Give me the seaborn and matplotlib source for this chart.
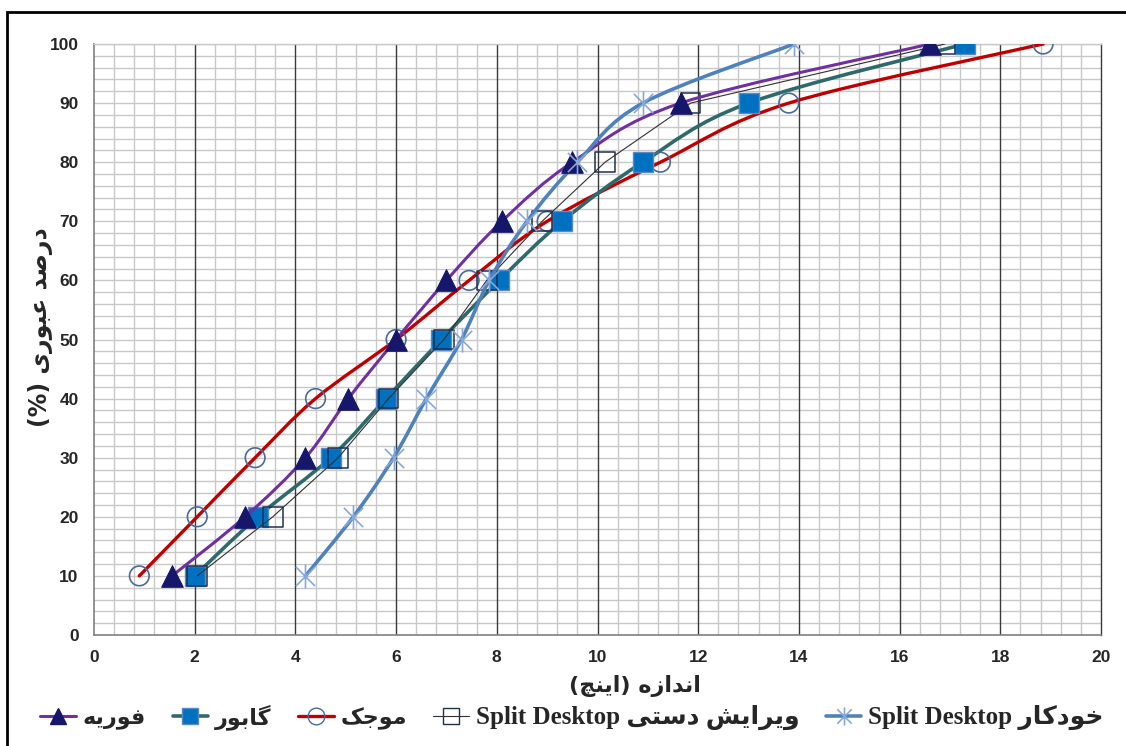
import numpy as np
import matplotlib
matplotlib.use("Agg")
import matplotlib.pyplot as plt
from matplotlib.path import Path
from matplotlib.patches import PathPatch, Rectangle
from matplotlib.lines import Line2D
import seaborn as sns
import pandas as pd

# ---------------- data ----------------
passing = [10, 20, 30, 40, 50, 60, 70, 80, 90, 100]
fourier_x = [1.55, 3.0, 4.2, 5.05, 6.0, 7.0, 8.1, 9.5, 11.65, 16.6]
gabor_x = [2.0, 3.25, 4.7, 5.8, 6.9, 8.05, 9.3, 10.9, 13.0, 17.3]
wavelet_x = [0.9, 2.05, 3.2, 4.4, 6.0, 7.45, 9.0, 11.25, 13.8, 18.85]
manual_x = [2.05, 3.55, 4.85, 5.85, 6.95, 7.8, 8.9, 10.15, 11.85, 16.9]
auto_x = [4.2, 5.15, 5.95, 6.6, 7.3, 7.85, 8.6, 9.6, 10.9, 13.9]
x_ticks = list(range(0, 21, 2))
y_ticks = list(range(0, 101, 10))

# ---------------- persian shaping (presentation forms) ----------------
FORMS = {
    'ا': ('\uFE8D', '\uFE8E', None, None),
    'ب': ('\uFE8F', '\uFE90', '\uFE91', '\uFE92'),
    'ت': ('\uFE95', '\uFE96', '\uFE97', '\uFE98'),
    'ج': ('\uFE9D', '\uFE9E', '\uFE9F', '\uFEA0'),
    'چ': ('\uFB7A', '\uFB7B', '\uFB7C', '\uFB7D'),
    'خ': ('\uFEA5', '\uFEA6', '\uFEA7', '\uFEA8'),
    'د': ('\uFEA9', '\uFEAA', None, None),
    'ر': ('\uFEAD', '\uFEAE', None, None),
    'ز': ('\uFEAF', '\uFEB0', None, None),
    'س': ('\uFEB1', '\uFEB2', '\uFEB3', '\uFEB4'),
    'ش': ('\uFEB5', '\uFEB6', '\uFEB7', '\uFEB8'),
    'ص': ('\uFEB9', '\uFEBA', '\uFEBB', '\uFEBC'),
    'ع': ('\uFEC9', '\uFECA', '\uFECB', '\uFECC'),
    'ف': ('\uFED1', '\uFED2', '\uFED3', '\uFED4'),
    'م': ('\uFEE1', '\uFEE2', '\uFEE3', '\uFEE4'),
    'ن': ('\uFEE5', '\uFEE6', '\uFEE7', '\uFEE8'),
    'ه': ('\uFEE9', '\uFEEA', '\uFEEB', '\uFEEC'),
    'و': ('\uFEED', '\uFEEE', None, None),
    'ی': ('\uFBFC', '\uFBFD', '\uFBFE', '\uFBFF'),
    'ک': ('\uFB8E', '\uFB8F', '\uFB90', '\uFB91'),
    'گ': ('\uFB92', '\uFB93', '\uFB94', '\uFB95'),
}
RIGHT_ONLY = set('اآدذرزژو')


def shape(s):
    out = []
    for i, ch in enumerate(s):
        if ch not in FORMS:
            out.append(ch)
            continue
        prev = s[i - 1] if i > 0 else ''
        nxt = s[i + 1] if i + 1 < len(s) else ''
        jp = (prev in FORMS) and (prev not in RIGHT_ONLY)
        jn = (ch not in RIGHT_ONLY) and (nxt in FORMS)
        iso, fin, ini, med = FORMS[ch]
        if jp and jn:
            out.append(med)
        elif jp:
            out.append(fin)
        elif jn:
            out.append(ini)
        else:
            out.append(iso)
    return ''.join(out)


def rtl(s):
    v = shape(s)[::-1]
    return v.translate(str.maketrans({'(': ')', ')': '('}))


lbl_fourier = rtl('فوریه')
lbl_gabor = rtl('گابور')
lbl_wavelet = rtl('موجک')
lbl_manual = 'Split Desktop ' + rtl('ویرایش دستی')
lbl_auto = 'Split Desktop ' + rtl('خودکار')
xlabel = rtl('اندازه (اینچ)')
ylabel = rtl('درصد عبوری (%)')

# ---------------- figure ----------------
sns.set_style("white")
plt.rcParams['font.family'] = ['Liberation Sans', 'DejaVu Sans']

fig = plt.figure(figsize=(11.26, 7.46), dpi=100)
ax = fig.add_axes([94 / 1126, 1 - 635 / 746, (1101 - 94) / 1126, (635 - 44) / 746])


def smooth_path(xs, ys):
    pts = np.column_stack([xs, ys]).astype(float)
    n = len(pts)
    verts = [pts[0]]
    codes = [Path.MOVETO]
    for i in range(n - 1):
        p0 = pts[i - 1] if i > 0 else pts[i]
        p1 = pts[i]
        p2 = pts[i + 1]
        p3 = pts[i + 2] if i + 2 < n else pts[i + 1]
        c1 = p1 + (p2 - p0) / 6.0
        c2 = p2 - (p3 - p1) / 6.0
        verts += [c1, c2, p2]
        codes += [Path.CURVE4] * 3
    return Path(verts, codes)


def smooth_line(xs, ys, color, lw, z):
    patch = PathPatch(smooth_path(xs, ys), facecolor='none', edgecolor=color,
                      lw=lw, transform=ax.transData, zorder=z, capstyle='round')
    ax.add_patch(patch)


c_purple = '#7030A0'
c_navy = '#16166A'
c_teal = '#2E6A6C'
c_blue = '#0070C0'
c_red = '#C00000'
c_circ = '#4A6A9A'
c_auto = '#4F81BD'
c_ast = '#86A8D8'

ast_marker = Path([(-1, -1), (1, 1), (-1, 1), (1, -1), (0, -1.25), (0, 1.25)],
                  [Path.MOVETO, Path.LINETO, Path.MOVETO, Path.LINETO, Path.MOVETO, Path.LINETO])

# Wavelet
smooth_line(wavelet_x, passing, c_red, 2.4, 3)
sns.scatterplot(x=wavelet_x, y=passing, ax=ax, marker='o', s=200, facecolor='none',
                edgecolor=c_circ, linewidth=1.2, zorder=4, legend=False)
# Gabor
smooth_line(gabor_x, passing, c_teal, 2.6, 3)
sns.scatterplot(x=gabor_x, y=passing, ax=ax, marker='s', s=200, color=c_blue,
                edgecolor='#5A8AC6', linewidth=1.0, zorder=4, legend=False)
# Manual split desktop (straight thin line)
df_manual = pd.DataFrame({'x': manual_x, 'y': passing})
sns.lineplot(data=df_manual, x='x', y='y', ax=ax, sort=False, color='#303030',
             lw=0.8, zorder=5, legend=False)
sns.scatterplot(data=df_manual, x='x', y='y', ax=ax, marker='s', s=200, facecolor='none',
                edgecolor='#1F3050', linewidth=1.1, zorder=5, legend=False)
# Fourier
smooth_line(fourier_x, passing, c_purple, 2.2, 6)
sns.scatterplot(x=fourier_x, y=passing, ax=ax, marker='^', s=240, color=c_navy,
                edgecolor=c_navy, linewidth=0.8, zorder=7, legend=False)
# Auto split desktop
smooth_line(auto_x, passing, c_auto, 2.6, 6)
ax.scatter(auto_x, passing, marker=ast_marker, s=300, color=c_ast, linewidth=1.2, zorder=7)

# ---------------- axes styling ----------------
ax.set_xlim(0, 20)
ax.set_ylim(0, 100)
ax.set_xticks(x_ticks)
ax.set_yticks(y_ticks)
ax.set_xticks(np.arange(0, 20.001, 0.4), minor=True)
ax.set_yticks(np.arange(0, 100.001, 2), minor=True)
ax.set_xticklabels([str(t) for t in x_ticks], fontsize=12.5, fontweight='bold')
ax.set_yticklabels([str(t) for t in y_ticks], fontsize=12.5, fontweight='bold')
ax.tick_params(which='major', direction='out', length=6, width=1, color='#808080', pad=5)
ax.tick_params(which='minor', length=0)
ax.grid(which='minor', axis='both', color='#C8C8C8', lw=1.0, zorder=0)
ax.grid(which='major', axis='y', color='#C8C8C8', lw=1.0, zorder=0)
for t in x_ticks[1:-1]:
    ax.axvline(t, color='#3A3A3A', lw=1.0, zorder=1)
ax.set_axisbelow(True)
for s in ['left', 'bottom']:
    ax.spines[s].set_color('#808080')
    ax.spines[s].set_linewidth(1.2)
ax.spines['right'].set_color('#3A3A3A')
ax.spines['right'].set_linewidth(1.0)
ax.spines['top'].set_color('#C8C8C8')
ax.spines['top'].set_linewidth(1.0)

ax.set_xlabel(xlabel, fontsize=16, fontweight='bold', family=['DejaVu Sans'])
ax.xaxis.set_label_coords(0.537, -0.068)
ax.set_ylabel(ylabel, fontsize=17, fontweight='bold', family=['DejaVu Sans'])
ax.yaxis.set_label_coords(-0.041, 0.521)

# ---------------- legend ----------------
handles = [
    Line2D([], [], color=c_purple, lw=2.2, marker='^', ms=12, mfc=c_navy, mec=c_navy),
    Line2D([], [], color=c_teal, lw=2.6, marker='s', ms=11, mfc=c_blue, mec='#5A8AC6'),
    Line2D([], [], color=c_red, lw=2.4, marker='o', ms=12, mfc='none', mec=c_circ),
    Line2D([], [], color='#303030', lw=0.8, marker='s', ms=11, mfc='none', mec='#1F3050'),
    Line2D([], [], color=c_auto, lw=2.6, marker=ast_marker, ms=13, mec=c_ast, mew=1.2),
]
labels = [lbl_fourier, lbl_gabor, lbl_wavelet, lbl_manual, lbl_auto]
leg = fig.legend(handles, labels, loc='center', bbox_to_anchor=(0.508, 0.039), ncol=5,
                 frameon=False, handlelength=1.6, handletextpad=0.3, columnspacing=1.2,
                 prop={'family': ['Liberation Serif', 'DejaVu Sans'], 'weight': 'bold', 'size': 16})
for txt in leg.get_texts()[3:]:
    txt.set_fontsize(18)

# outer frame (partly cropped)
fig.add_artist(Rectangle((7 / 1126, -0.2), 1.3, 1.2 - 12 / 746, transform=fig.transFigure,
                         fill=False, ec='black', lw=2, clip_on=False))

fig.savefig('out.png', dpi=100)
